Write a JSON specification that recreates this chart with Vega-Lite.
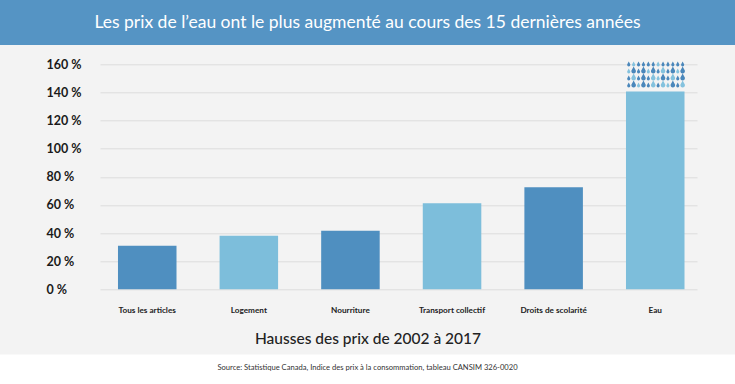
{
  "$schema": "https://vega.github.io/schema/vega-lite/v6.json",
  "padding": 0,
  "background": "#f3f3f3",
  "spacing": 13.3,
  "config": {"view": {"stroke": null}},
  "vconcat": [
    {
      "width": 735,
      "height": 45,
      "view": {"fill": "#5594c4", "stroke": null},
      "data": {"values": [{"t": "Les prix de l’eau ont le plus augmenté au cours des 15 dernières années"}]},
      "mark": {"type": "text", "font": "Lato", "fontSize": 17.5, "color": "#ffffff", "align": "center", "baseline": "middle"},
      "encoding": {"text": {"field": "t", "type": "nominal"}}
    },
    {
      "spacing": 7.2,
      "vconcat": [
        {
          "spacing": 0,
          "hconcat": [
            {
              "width": 100,
              "height": 225,
              "data": {"values": [
                {"cat": "Tous les articles", "value": 31.0},
                {"cat": "Eau", "value": 140.6}
              ]},
              "mark": {"type": "point", "opacity": 0},
              "encoding": {
                "y": {
                  "field": "value", "type": "quantitative",
                  "scale": {"domain": [0, 160], "nice": false},
                  "axis": {
                    "values": [0, 20, 40, 60, 80, 100, 120, 140, 160],
                    "labelExpr": "datum.value + ' %'",
                    "grid": false, "domain": false, "ticks": false, "tickSize": 0,
                    "labelAlign": "left", "labelPadding": -46, "labelBaseline": "middle",
                    "labelFont": "Lato", "labelFontWeight": "bold", "labelFontSize": 12.5, "labelColor": "#1a1a1a",
                    "title": null
                  }
                }
              }
            },
            {
              "width": 597,
              "height": 225,
              "data": {"values": [
                {"cat": "Tous les articles", "value": 31.0},
                {"cat": "Logement", "value": 38.1},
                {"cat": "Nourriture", "value": 41.7},
                {"cat": "Transport collectif", "value": 61.2},
                {"cat": "Droits de scolarité", "value": 72.6},
                {"cat": "Eau", "value": 140.6}
              ]},
              "encoding": {
                "x": {
                  "field": "cat", "type": "nominal", "sort": null,
                  "scale": {"paddingInner": 0.424, "paddingOuter": 0.15, "align": 0.59},
                  "axis": {
                    "domain": false, "ticks": false, "tickSize": 0, "grid": false,
                    "labelAngle": 0, "labelPadding": 21, "labelBaseline": "middle",
                    "labelFont": "Lato", "labelFontWeight": "bold", "labelFontSize": 8.2, "labelColor": "#222222",
                    "title": "Hausses des prix de 2002 à 2017",
                    "titleX": 267.5, "titleY": 49, "titleAlign": "center", "titleBaseline": "middle",
                    "titleFont": "Lato", "titleFontSize": 15.5, "titleFontWeight": 500, "titleColor": "#222222"
                  }
                },
                "y": {
                  "field": "value", "type": "quantitative",
                  "scale": {"domain": [0, 160], "nice": false},
                  "axis": {
                    "values": [0, 20, 40, 60, 80, 100, 120, 140, 160],
                    "grid": true, "gridColor": "#dcdcdc", "gridWidth": 1,
                    "labels": false, "domain": false, "ticks": false, "tickSize": 0,
                    "title": null
                  }
                }
              },
              "layer": [
                {
                  "mark": {"type": "bar"},
                  "encoding": {
                    "color": {
                      "field": "cat", "type": "nominal", "legend": null,
                      "scale": {
                        "domain": ["Tous les articles", "Logement", "Nourriture", "Transport collectif", "Droits de scolarité", "Eau"],
                        "range": ["#4f8fc0", "#7dbedb", "#4f8fc0", "#7dbedb", "#4f8fc0", "#7dbedb"]
                      }
                    }
                  }
                },
                {
                  "transform": [{"filter": "datum.cat === 'Eau'"}],
                  "mark": {
                    "type": "point", "filled": true, "size": 4, "opacity": 1, "strokeWidth": 0, "color": "#4a87bb",
                    "shape": "M-26.5,-30l1.6,3q0,2,-1.6,2q-1.6,0,-1.6,-2zM-16.7,-30l1.6,3q0,2,-1.6,2q-1.6,0,-1.6,-2zM-11.8,-30l1.6,3q0,2,-1.6,2q-1.6,0,-1.6,-2zM-6.9,-30l1.6,3q0,2,-1.6,2q-1.6,0,-1.6,-2zM-2,-30l1.6,3q0,2,-1.6,2q-1.6,0,-1.6,-2zM7.8,-30l1.6,3q0,2,-1.6,2q-1.6,0,-1.6,-2zM12.7,-30l1.6,3q0,2,-1.6,2q-1.6,0,-1.6,-2zM17.6,-30l1.6,3q0,2,-1.6,2q-1.6,0,-1.6,-2zM22.5,-30l1.6,3q0,2,-1.6,2q-1.6,0,-1.6,-2zM27.4,-30l1.6,3q0,2,-1.6,2q-1.6,0,-1.6,-2zM-21.6,-25l2.3,4.2q0,2.8,-2.3,2.8q-2.3,0,-2.3,-2.8zM-16.7,-23l1.6,3q0,2,-1.6,2q-1.6,0,-1.6,-2zM-11.8,-25l2.3,4.2q0,2.8,-2.3,2.8q-2.3,0,-2.3,-2.8zM-2,-25l2.3,4.2q0,2.8,-2.3,2.8q-2.3,0,-2.3,-2.8zM2.9,-23l1.6,3q0,2,-1.6,2q-1.6,0,-1.6,-2zM12.7,-23l1.6,3q0,2,-1.6,2q-1.6,0,-1.6,-2zM17.6,-25l2.3,4.2q0,2.8,-2.3,2.8q-2.3,0,-2.3,-2.8zM27.4,-25l2.3,4.2q0,2.8,-2.3,2.8q-2.3,0,-2.3,-2.8zM-26.5,-16l1.6,3q0,2,-1.6,2q-1.6,0,-1.6,-2zM-16.7,-16l1.6,3q0,2,-1.6,2q-1.6,0,-1.6,-2zM-11.8,-18l2.3,4.2q0,2.8,-2.3,2.8q-2.3,0,-2.3,-2.8zM-6.9,-16l1.6,3q0,2,-1.6,2q-1.6,0,-1.6,-2zM7.8,-18l2.3,4.2q0,2.8,-2.3,2.8q-2.3,0,-2.3,-2.8zM12.7,-16l1.6,3q0,2,-1.6,2q-1.6,0,-1.6,-2zM22.5,-16l1.6,3q0,2,-1.6,2q-1.6,0,-1.6,-2zM27.4,-18l2.3,4.2q0,2.8,-2.3,2.8q-2.3,0,-2.3,-2.8zM-26.5,-9l1.6,3q0,2,-1.6,2q-1.6,0,-1.6,-2zM-21.6,-11l2.3,4.2q0,2.8,-2.3,2.8q-2.3,0,-2.3,-2.8zM-11.8,-11l2.3,4.2q0,2.8,-2.3,2.8q-2.3,0,-2.3,-2.8zM-6.9,-9l1.6,3q0,2,-1.6,2q-1.6,0,-1.6,-2zM2.9,-9l1.6,3q0,2,-1.6,2q-1.6,0,-1.6,-2zM17.6,-11l2.3,4.2q0,2.8,-2.3,2.8q-2.3,0,-2.3,-2.8zM22.5,-9l1.6,3q0,2,-1.6,2q-1.6,0,-1.6,-2z"
                  },
                  "encoding": {}
                },
                {
                  "transform": [{"filter": "datum.cat === 'Eau'"}],
                  "mark": {
                    "type": "point", "filled": true, "size": 4, "opacity": 1, "strokeWidth": 0, "color": "#84c2de",
                    "shape": "M-21.6,-30l1.6,3q0,2,-1.6,2q-1.6,0,-1.6,-2zM2.9,-30l1.6,3q0,2,-1.6,2q-1.6,0,-1.6,-2zM-26.5,-23l1.6,3q0,2,-1.6,2q-1.6,0,-1.6,-2zM-6.9,-23l1.6,3q0,2,-1.6,2q-1.6,0,-1.6,-2zM7.8,-25l2.3,4.2q0,2.8,-2.3,2.8q-2.3,0,-2.3,-2.8zM22.5,-23l1.6,3q0,2,-1.6,2q-1.6,0,-1.6,-2zM-21.6,-18l2.3,4.2q0,2.8,-2.3,2.8q-2.3,0,-2.3,-2.8zM-2,-18l2.3,4.2q0,2.8,-2.3,2.8q-2.3,0,-2.3,-2.8zM2.9,-16l1.6,3q0,2,-1.6,2q-1.6,0,-1.6,-2zM17.6,-18l2.3,4.2q0,2.8,-2.3,2.8q-2.3,0,-2.3,-2.8zM-16.7,-9l1.6,3q0,2,-1.6,2q-1.6,0,-1.6,-2zM-2,-11l2.3,4.2q0,2.8,-2.3,2.8q-2.3,0,-2.3,-2.8zM7.8,-11l2.3,4.2q0,2.8,-2.3,2.8q-2.3,0,-2.3,-2.8zM12.7,-9l1.6,3q0,2,-1.6,2q-1.6,0,-1.6,-2zM27.4,-11l2.3,4.2q0,2.8,-2.3,2.8q-2.3,0,-2.3,-2.8z"
                  },
                  "encoding": {}
                }
              ]
            }
          ]
        },
        {
          "width": 735,
          "height": 31,
          "view": {"fill": "#ffffff", "stroke": null},
          "data": {"values": [{"t": "Source: Statistique Canada, Indice des prix à la consommation, tableau CANSIM 326-0020"}]},
          "mark": {"type": "text", "font": "Lato", "fontSize": 7.6, "color": "#333333", "align": "center", "baseline": "middle", "dy": -1.8},
          "encoding": {"text": {"field": "t", "type": "nominal"}}
        }
      ]
    }
  ]
}
